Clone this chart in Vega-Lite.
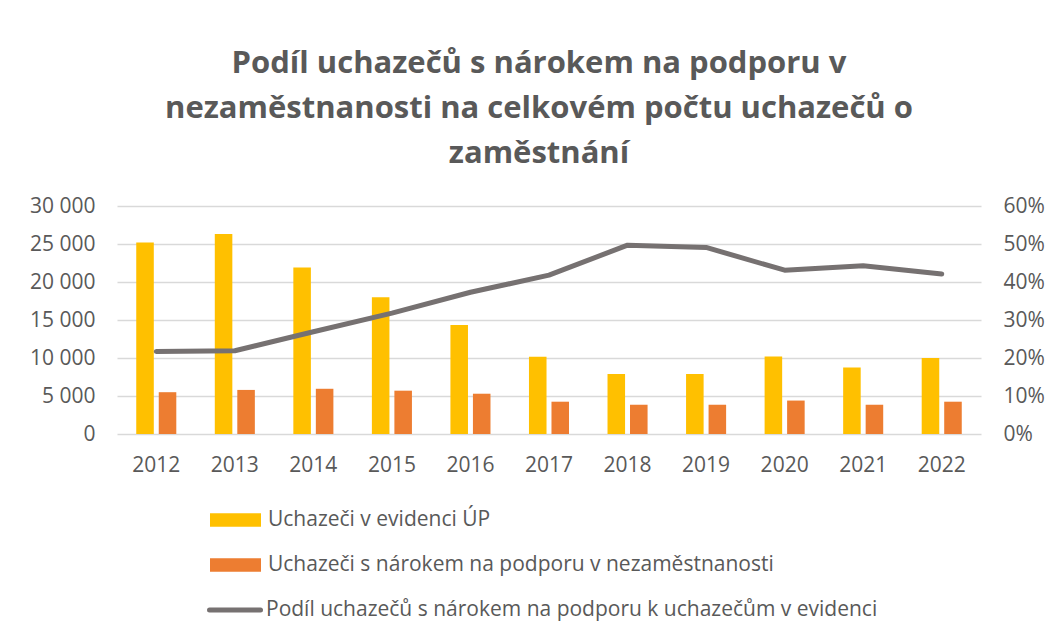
{
  "$schema": "https://vega.github.io/schema/vega-lite/v6.json",
  "width": 864,
  "height": 228,
  "autosize": {"type": "none"},
  "padding": {"left": 117, "top": 206, "right": 70, "bottom": 201},
  "background": "white",
  "config": {
    "font": "Open Sans",
    "view": {"stroke": null},
    "locale": {"number": {"decimal": ",", "thousands": " ", "grouping": [3], "currency": ["", " Kč"]}},
    "legend": {"padding": 0}
  },
  "title": {
    "text": ["Podíl uchazečů s nárokem na podporu v", "nezaměstnanosti na celkovém počtu uchazečů o", "zaměstnání"],
    "font": "Open Sans",
    "fontSize": 31,
    "fontWeight": "bold",
    "color": "#595959",
    "lineHeight": 45,
    "anchor": "middle",
    "frame": "group",
    "dx": -10,
    "offset": 25
  },
  "datasets": {
    "bars": [
      {"year": "2012", "series": "Uchazeči  v evidenci ÚP", "value": 25200},
      {"year": "2012", "series": "Uchazeči s nárokem na podporu v nezaměstnanosti", "value": 5500},
      {"year": "2013", "series": "Uchazeči  v evidenci ÚP", "value": 26300},
      {"year": "2013", "series": "Uchazeči s nárokem na podporu v nezaměstnanosti", "value": 5800},
      {"year": "2014", "series": "Uchazeči  v evidenci ÚP", "value": 21900},
      {"year": "2014", "series": "Uchazeči s nárokem na podporu v nezaměstnanosti", "value": 5950},
      {"year": "2015", "series": "Uchazeči  v evidenci ÚP", "value": 18000},
      {"year": "2015", "series": "Uchazeči s nárokem na podporu v nezaměstnanosti", "value": 5700},
      {"year": "2016", "series": "Uchazeči  v evidenci ÚP", "value": 14350},
      {"year": "2016", "series": "Uchazeči s nárokem na podporu v nezaměstnanosti", "value": 5300},
      {"year": "2017", "series": "Uchazeči  v evidenci ÚP", "value": 10150},
      {"year": "2017", "series": "Uchazeči s nárokem na podporu v nezaměstnanosti", "value": 4250},
      {"year": "2018", "series": "Uchazeči  v evidenci ÚP", "value": 7900},
      {"year": "2018", "series": "Uchazeči s nárokem na podporu v nezaměstnanosti", "value": 3850},
      {"year": "2019", "series": "Uchazeči  v evidenci ÚP", "value": 7900},
      {"year": "2019", "series": "Uchazeči s nárokem na podporu v nezaměstnanosti", "value": 3850},
      {"year": "2020", "series": "Uchazeči  v evidenci ÚP", "value": 10200},
      {"year": "2020", "series": "Uchazeči s nárokem na podporu v nezaměstnanosti", "value": 4400},
      {"year": "2021", "series": "Uchazeči  v evidenci ÚP", "value": 8750},
      {"year": "2021", "series": "Uchazeči s nárokem na podporu v nezaměstnanosti", "value": 3850},
      {"year": "2022", "series": "Uchazeči  v evidenci ÚP", "value": 10000},
      {"year": "2022", "series": "Uchazeči s nárokem na podporu v nezaměstnanosti", "value": 4250}
    ],
    "share": [
      {"year": "2012", "series": "Podíl uchazečů s nárokem na podporu k uchazečům v evidenci", "podil": 0.217},
      {"year": "2013", "series": "Podíl uchazečů s nárokem na podporu k uchazečům v evidenci", "podil": 0.219},
      {"year": "2014", "series": "Podíl uchazečů s nárokem na podporu k uchazečům v evidenci", "podil": 0.269},
      {"year": "2015", "series": "Podíl uchazečů s nárokem na podporu k uchazečům v evidenci", "podil": 0.318},
      {"year": "2016", "series": "Podíl uchazečů s nárokem na podporu k uchazečům v evidenci", "podil": 0.373},
      {"year": "2017", "series": "Podíl uchazečů s nárokem na podporu k uchazečům v evidenci", "podil": 0.418},
      {"year": "2018", "series": "Podíl uchazečů s nárokem na podporu k uchazečům v evidenci", "podil": 0.497},
      {"year": "2019", "series": "Podíl uchazečů s nárokem na podporu k uchazečům v evidenci", "podil": 0.491},
      {"year": "2020", "series": "Podíl uchazečů s nárokem na podporu k uchazečům v evidenci", "podil": 0.431},
      {"year": "2021", "series": "Podíl uchazečů s nárokem na podporu k uchazečům v evidenci", "podil": 0.443},
      {"year": "2022", "series": "Podíl uchazečů s nárokem na podporu k uchazečům v evidenci", "podil": 0.421}
    ]
  },
  "encoding": {
    "x": {
      "field": "year",
      "type": "nominal",
      "sort": null,
      "scale": {"paddingInner": 0.49, "paddingOuter": 0.245},
      "axis": {
        "title": null,
        "labelAngle": 0,
        "domain": false,
        "ticks": false,
        "tickSize": 0,
        "labelPadding": 20,
        "labelFont": "Open Sans",
        "labelFontSize": 21,
        "labelColor": "#595959"
      }
    }
  },
  "layer": [
    {
      "data": {"name": "bars"},
      "mark": {"type": "bar"},
      "encoding": {
        "xOffset": {
          "field": "series",
          "type": "nominal",
          "scale": {"domain": ["Uchazeči  v evidenci ÚP", "Uchazeči s nárokem na podporu v nezaměstnanosti"], "paddingInner": 0.22, "paddingOuter": 0}
        },
        "y": {
          "field": "value",
          "type": "quantitative",
          "scale": {"domain": [0, 30000], "nice": false},
          "axis": {
            "title": null,
            "values": [0, 5000, 10000, 15000, 20000, 25000, 30000],
            "format": ",d",
            "domain": false,
            "ticks": false,
            "tickSize": 0,
            "labelPadding": 22,
            "labelFont": "Open Sans",
            "labelFontSize": 21,
            "labelColor": "#595959",
            "grid": true,
            "gridColor": "#D9D9D9",
            "gridWidth": 1.3
          }
        },
        "fill": {
          "field": "series",
          "type": "nominal",
          "scale": {"domain": ["Uchazeči  v evidenci ÚP", "Uchazeči s nárokem na podporu v nezaměstnanosti"], "range": ["#FFC000", "#ED7D31"]},
          "legend": {
            "title": null,
            "orient": "none",
            "legendX": 93,
            "legendY": 303,
            "direction": "vertical",
            "symbolType": "M-1,-0.263H1V0.263H-1Z",
            "symbolSize": 2601,
            "symbolStrokeWidth": 0,
            "symbolOpacity": 1,
            "clipHeight": 22,
            "rowPadding": 23,
            "labelOffset": 7,
            "labelFont": "Open Sans",
            "labelFontSize": 21,
            "labelColor": "#595959",
            "labelLimit": 800
          }
        }
      }
    },
    {
      "data": {"name": "share"},
      "mark": {"type": "line", "strokeWidth": 5, "strokeCap": "round", "strokeJoin": "round"},
      "encoding": {
        "y": {
          "field": "podil",
          "type": "quantitative",
          "scale": {"domain": [0, 0.6], "nice": false},
          "axis": {
            "title": null,
            "orient": "right",
            "values": [0, 0.1, 0.2, 0.3, 0.4, 0.5, 0.6],
            "format": ".0%",
            "domain": false,
            "ticks": false,
            "tickSize": 0,
            "labelPadding": 22,
            "labelFont": "Open Sans",
            "labelFontSize": 21,
            "labelColor": "#595959",
            "grid": false
          }
        },
        "stroke": {
          "field": "series",
          "type": "nominal",
          "scale": {"range": ["#767171"]},
          "legend": {
            "title": null,
            "orient": "none",
            "legendX": 90,
            "legendY": 393,
            "symbolType": "stroke",
            "symbolSize": 2601,
            "symbolStrokeWidth": 5,
            "clipHeight": 22,
            "labelOffset": 3,
            "labelFont": "Open Sans",
            "labelFontSize": 21,
            "labelColor": "#595959",
            "labelLimit": 800,
            "encode": {"symbols": {"update": {"strokeCap": {"value": "round"}}}}
          }
        }
      }
    }
  ],
  "resolve": {"scale": {"y": "independent"}}
}
